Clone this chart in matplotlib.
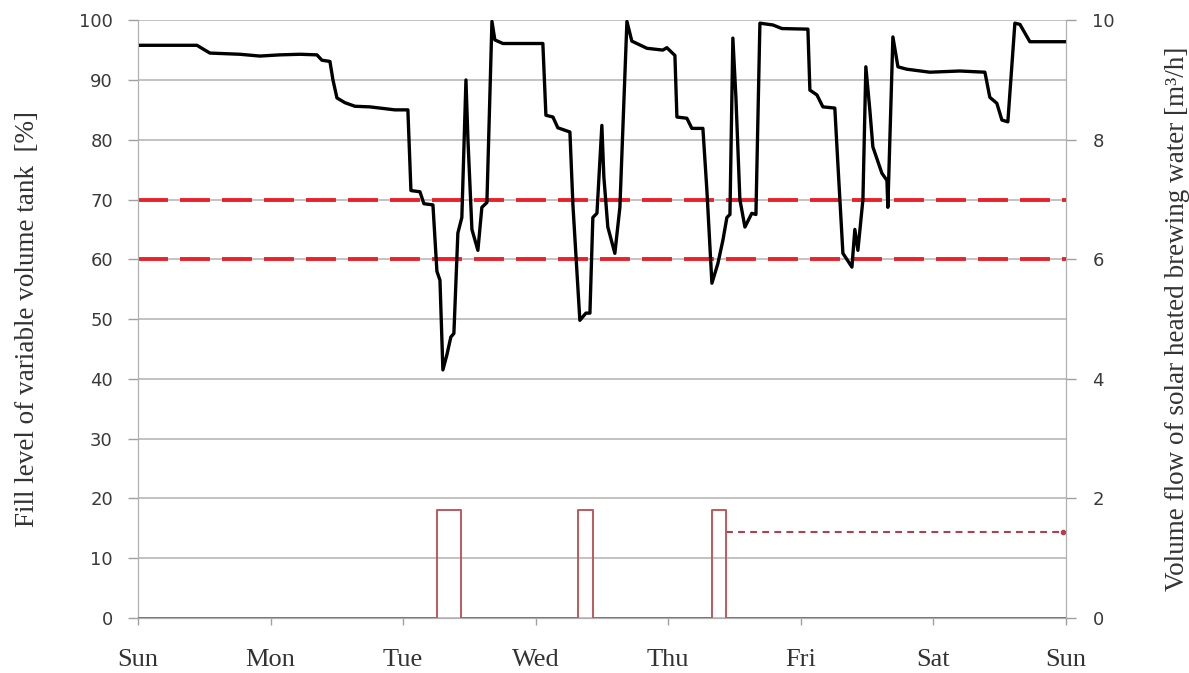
import matplotlib.pyplot as plt
import numpy as np

# fill level of the tank, time in days since Sunday 0:00
level_t = [0, 0.445, 0.505, 0.543, 0.769, 0.920, 1.071, 1.222, 1.350, 1.388, 1.448, 1.471,
           1.501, 1.561, 1.637, 1.750, 1.825, 1.938, 2.036, 2.059, 2.127, 2.157, 2.225, 2.255,
           2.278, 2.300, 2.330, 2.360, 2.383, 2.413, 2.443, 2.474, 2.489, 2.519, 2.564, 2.594,
           2.632, 2.670, 2.692, 2.753, 3.054, 3.077, 3.130, 3.167, 3.258, 3.281, 3.333, 3.379,
           3.409, 3.431, 3.462, 3.499, 3.514, 3.544, 3.597, 3.635, 3.688, 3.725, 3.839, 3.959,
           3.989, 4.050, 4.065, 4.140, 4.178, 4.261, 4.291, 4.329, 4.374, 4.412, 4.442, 4.465,
           4.487, 4.510, 4.540, 4.578, 4.630, 4.661, 4.691, 4.789, 4.857, 5.053, 5.068, 5.121,
           5.166, 5.256, 5.279, 5.317, 5.347, 5.385, 5.407, 5.430, 5.468, 5.490, 5.520, 5.543,
           5.611, 5.649, 5.656, 5.694, 5.732, 5.799, 5.973, 6.199, 6.388, 6.425, 6.478, 6.516,
           6.561, 6.614, 6.652, 6.727, 6.991]
level = [95.8, 95.8, 95.0, 94.5, 94.3, 94.0, 94.2, 94.3, 94.2, 93.3, 93.1, 90.0,
         87.0, 86.2, 85.6, 85.5, 85.3, 85.0, 85.0, 71.5, 71.3, 69.3, 69.1, 58.0,
         56.5, 41.5, 44.0, 47.0, 47.6, 64.4, 67.0, 90.0, 80.0, 65.0, 61.5, 68.7,
         69.5, 99.8, 96.7, 96.1, 96.1, 84.1, 83.8, 82.0, 81.3, 69.0, 49.8, 51.0,
         51.0, 67.0, 67.7, 82.4, 73.8, 65.4, 61.0, 68.7, 99.8, 96.5, 95.3, 95.0,
         95.4, 94.1, 83.8, 83.6, 81.9, 81.9, 71.6, 56.0, 59.3, 63.2, 67.0, 67.5,
         97.0, 87.1, 70.0, 65.4, 67.7, 67.5, 99.5, 99.2, 98.6, 98.5, 88.3, 87.5,
         85.5, 85.3, 76.0, 61.0, 60.0, 58.7, 65.0, 61.5, 70.0, 92.2, 85.0, 78.8,
         74.4, 73.2, 68.7, 97.2, 92.2, 91.8, 91.3, 91.5, 91.3, 87.1, 86.1, 83.3,
         83.0, 99.5, 99.3, 96.4, 96.4]

limits = [70, 60]

# brewing water flow pulses (start day, end day, m3/h)
pulse_start = [2.255, 3.318, 4.329]
pulse_end = [2.436, 3.431, 4.434]
pulse_flow = [1.8, 1.8, 1.8]
planned_start, planned_end, planned_flow = 4.434, 6.98, 1.44

days = ['Sun', 'Mon', 'Tue', 'Wed', 'Thu', 'Fri', 'Sat', 'Sun']

plt.rcParams['font.family'] = ['Liberation Serif', 'DejaVu Serif']

fig = plt.figure(figsize=(11.89, 6.73), dpi=100)
ax = fig.add_axes([0.116, 0.0817, 0.7806, 0.8883])
ax2 = ax.twinx()

ax.set_xlim(0, 7)
ax.set_ylim(0, 100)
ax.set_yticks(np.arange(0, 101, 10))
ax.set_xticks(range(8))
ax.set_xticklabels(days, fontsize=19)
ax.yaxis.grid(True, color='#b8b8b8', lw=1.2)
ax.set_axisbelow(True)

for lim in limits:
    ax.axhline(lim, color='#e8212b', lw=2.8, dashes=(7.7, 3.1), zorder=3)

ax.plot(level_t, level, color='black', lw=2.4, zorder=4)

# flow curve on secondary axis
ft = [0]
fv = [0]
for s, e, q in zip(pulse_start, pulse_end, pulse_flow):
    ft += [s, s, e, e]
    fv += [0, q, q, 0]
ft.append(7)
fv.append(0)
ax2.plot(ft, fv, color='#c0585c', lw=1.4, zorder=3)
ax2.plot([planned_start, planned_end], [planned_flow, planned_flow], color='#b04050',
         lw=1.5, dashes=(3.3, 2.5))
ax2.plot([planned_end], [planned_flow], 'o', color='#b04050', ms=3)
ax2.set_ylim(0, 10)
ax2.set_yticks(range(0, 11, 2))
ax2.set_xlim(0, 7)

for a in (ax, ax2):
    for s in a.spines.values():
        s.set_color('#b0b0b0')
    a.tick_params(color='#a0a0a0', labelcolor='#333333', length=7, width=1)
    for lab in a.get_yticklabels():
        lab.set_fontfamily('DejaVu Sans')
        lab.set_fontsize(13)
        lab.set_color('#3a3a3a')
ax.spines['top'].set_visible(False)
ax2.spines['top'].set_visible(False)
ax.tick_params(axis='y', pad=11)
ax.tick_params(axis='x', length=5, pad=17)
ax2.tick_params(axis='y', pad=12)

ax.set_ylabel('Fill level of variable volume tank  [%]', fontsize=19.5, color='#333333')
ax2.set_ylabel('Volume flow of solar heated brewing water [m³/h]', fontsize=19.5,
               color='#333333')
ax.yaxis.set_label_coords(-0.106, 0.5)
ax2.yaxis.set_label_coords(1.107, 0.5)

plt.savefig('out.png', dpi=100)
